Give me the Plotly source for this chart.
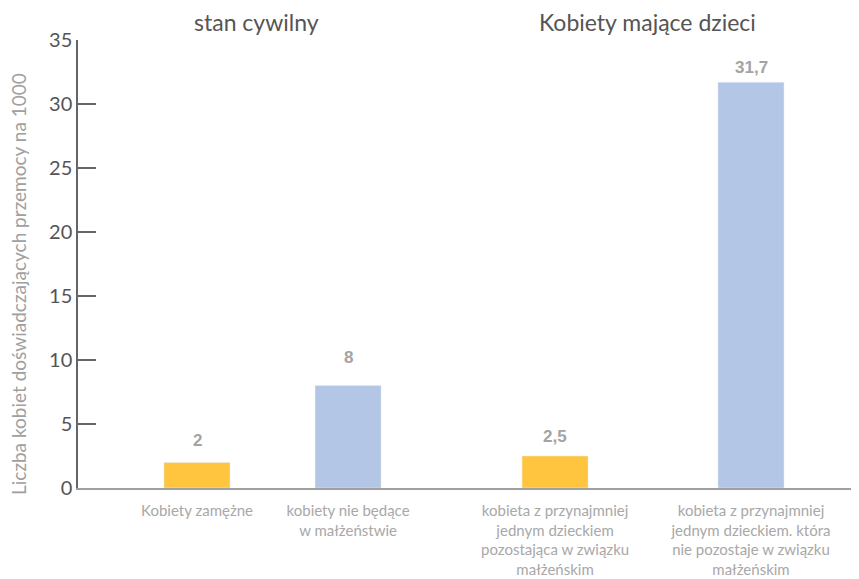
import plotly.graph_objects as go

# Data
group_titles = ["stan cywilny", "Kobiety mające dzieci"]
cats_g1 = ["Kobiety zamężne", "kobiety nie będące<br>w małżeństwie"]
vals_g1 = [2, 8]
cats_g2 = ["kobieta z przynajmniej<br>jednym dzieckiem<br>pozostająca w związku<br>małżeńskim",
           "kobieta z przynajmniej<br>jednym dzieckiem. która<br>nie pozostaje w związku<br>małżeńskim"]
vals_g2 = [2.5, 31.7]
bar_colors = ["#FFC53F", "#B3C6E6"]
y_title = "Liczba kobiet doświadczających przemocy na 1000"
y_ticks = [0, 5, 10, 15, 20, 25, 30, 35]

# label offsets (style, px)
shift_g1 = [10, 17]
shift_g2 = [8, 3]

def fmt(v):
    return ("%g" % v).replace(".", ",")

OFF = 8  # page body margin
W, H = 859, 579
ml, mr, mt, mb = 78 - OFF, 9, 40 - OFF, 579 - (488 - OFF)
pw = W - ml - mr
ph = H - mt - mb
split = (450 - OFF - ml) / pw

fig = go.Figure()
fig.add_trace(go.Bar(x=cats_g1, y=vals_g1, marker_color=bar_colors, width=0.437,
                     xaxis="x", yaxis="y", hoverinfo="skip"))
fig.add_trace(go.Bar(x=cats_g2, y=vals_g2, marker_color=bar_colors, width=0.337,
                     xaxis="x2", yaxis="y", hoverinfo="skip"))

annotations = []
for xref, cats, vals, shifts in (("x", cats_g1, vals_g1, shift_g1), ("x2", cats_g2, vals_g2, shift_g2)):
    for c, v, s in zip(cats, vals, shifts):
        annotations.append(dict(x=c, y=v, xref=xref, yref="y", text="<b>" + fmt(v) + "</b>",
                                showarrow=False, yanchor="bottom", yshift=s,
                                font=dict(size=17, color="#A3A3A3", family="Liberation Sans")))

for title, cx in zip(group_titles, (256, 647)):
    annotations.append(dict(x=(cx - OFF - ml) / pw, y=1 + (mt - (22 - OFF)) / ph,
                            xref="paper", yref="paper", text=title, showarrow=False,
                            yanchor="middle", xanchor="center",
                            font=dict(size=23, color="#555555", family="Lato")))

# y-axis title as rotated text
annotations.append(dict(x=-(ml - (18 - OFF)) / pw, y=1 - (284 - OFF - mt) / ph,
                        xref="paper", yref="paper", text=y_title, showarrow=False,
                        textangle=-90, xanchor="center", yanchor="middle",
                        font=dict(size=19, color="#A0A0A0", family="Lato")))

xcommon = dict(type="category", showline=True, linecolor="#A0A0A0", linewidth=2,
               ticks="outside", ticklen=8, tickcolor="rgba(0,0,0,0)",
               tickfont=dict(size=15, color="#A8A8A8", family="Lato"),
               showgrid=False, zeroline=False, fixedrange=True, tickangle=0)

fig.update_layout(
    width=W, height=H,
    margin=dict(l=ml, r=mr, t=mt, b=mb, autoexpand=False),
    paper_bgcolor="white", plot_bgcolor="white",
    showlegend=False,
    font=dict(family="Lato", color="#555555"),
    xaxis=dict(domain=[0, split], range=[-0.788, 1.675], anchor="y", **xcommon),
    xaxis2=dict(domain=[split, 1], range=[-0.536, 1.546], anchor="y", **xcommon),
    yaxis=dict(range=[0, 35], tickvals=y_ticks, ticktext=[str(t) for t in y_ticks],
               showline=True, linecolor="#666666", linewidth=1.5,
               ticks="inside", ticklen=18, tickcolor="#666666", tickwidth=1.5,
               tickfont=dict(size=20, color="#555555", family="Lato"),
               showgrid=False, zeroline=False, anchor="x"),
    annotations=annotations,
)

fig.write_html("out.html")
